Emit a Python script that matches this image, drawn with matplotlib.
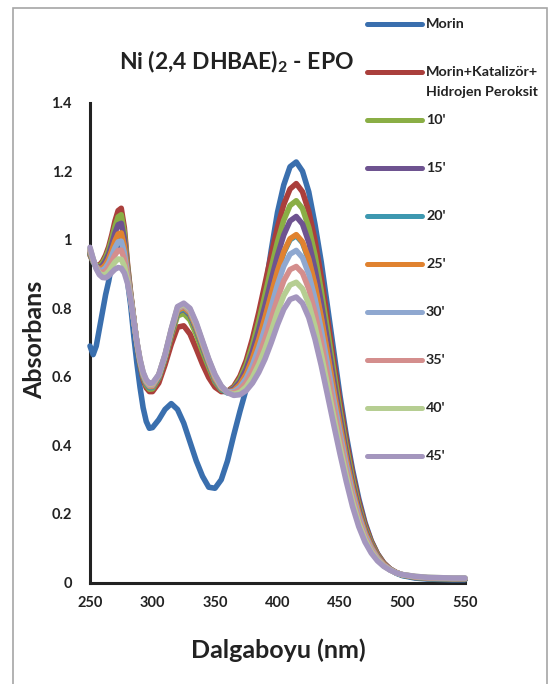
import matplotlib
matplotlib.use("Agg")
import matplotlib.pyplot as plt
from matplotlib.lines import Line2D
from matplotlib.patches import Rectangle

plt.rcParams['font.family'] = ['Lato', 'DejaVu Sans']
plt.rcParams['font.weight'] = 'bold'
plt.rcParams['mathtext.fontset'] = 'custom'
plt.rcParams['mathtext.rm'] = 'Lato:bold'
plt.rcParams['mathtext.bf'] = 'Lato:bold'

# wavelength grid (nm): 2.5 nm steps over the narrow first band, then 5 and 10 nm
wavelength = ([250 + 2.5 * i for i in range(21)]
              + list(range(305, 501, 5))
              + [510, 520, 530, 540, 550])

morin = [0.690, 0.665, 0.690, 0.740, 0.790, 0.840, 0.880, 0.930, 0.970, 0.990, 0.985,
         0.950, 0.880, 0.810, 0.720, 0.640, 0.570, 0.510, 0.470, 0.450, 0.452,
         0.475, 0.505, 0.522, 0.505, 0.465, 0.410, 0.355, 0.310, 0.278, 0.275,
         0.300, 0.355, 0.430, 0.500, 0.565, 0.640, 0.730, 0.850, 0.970, 1.080,
         1.160, 1.213, 1.227, 1.200, 1.140, 1.045, 0.935, 0.805, 0.675, 0.545,
         0.430, 0.330, 0.245, 0.175, 0.122, 0.084, 0.057, 0.039, 0.027, 0.020,
         0.013, 0.010, 0.009, 0.008, 0.008]
morin_kat = [0.955, 0.935, 0.925, 0.926, 0.937, 0.955, 0.980, 1.015, 1.055, 1.085, 1.092,
             1.035, 0.930, 0.845, 0.770, 0.695, 0.635, 0.592, 0.568, 0.557, 0.557,
             0.582, 0.635, 0.695, 0.745, 0.749, 0.725, 0.682, 0.637, 0.598, 0.570,
             0.557, 0.558, 0.572, 0.602, 0.648, 0.712, 0.788, 0.872, 0.957, 1.037,
             1.103, 1.148, 1.164, 1.140, 1.083, 0.998, 0.890, 0.770, 0.645, 0.525,
             0.415, 0.318, 0.236, 0.170, 0.120, 0.083, 0.057, 0.040, 0.029, 0.022,
             0.015, 0.012, 0.011, 0.010, 0.010]
t10 = [0.958, 0.936, 0.924, 0.923, 0.932, 0.948, 0.971, 1.003, 1.039, 1.067, 1.073,
       1.020, 0.924, 0.843, 0.769, 0.697, 0.640, 0.599, 0.575, 0.564, 0.565,
       0.596, 0.652, 0.720, 0.778, 0.785, 0.766, 0.724, 0.674, 0.628, 0.585,
       0.562, 0.557, 0.568, 0.594, 0.635, 0.692, 0.762, 0.839, 0.918, 0.994,
       1.057, 1.100, 1.114, 1.091, 1.036, 0.955, 0.851, 0.737, 0.617, 0.502,
       0.397, 0.304, 0.225, 0.162, 0.115, 0.080, 0.055, 0.039, 0.029, 0.022,
       0.015, 0.012, 0.011, 0.010, 0.010]
t15 = [0.961, 0.938, 0.923, 0.919, 0.925, 0.939, 0.959, 0.988, 1.020, 1.044, 1.048,
       1.002, 0.916, 0.840, 0.769, 0.698, 0.644, 0.603, 0.580, 0.569, 0.570,
       0.600, 0.657, 0.728, 0.789, 0.798, 0.780, 0.738, 0.687, 0.638, 0.590,
       0.565, 0.557, 0.565, 0.586, 0.623, 0.674, 0.737, 0.808, 0.883, 0.954,
       1.014, 1.055, 1.068, 1.046, 0.993, 0.915, 0.816, 0.705, 0.591, 0.482,
       0.380, 0.290, 0.215, 0.155, 0.110, 0.077, 0.054, 0.039, 0.029, 0.022,
       0.015, 0.013, 0.011, 0.011, 0.010]
t20 = [0.961, 0.936, 0.918, 0.912, 0.915, 0.925, 0.942, 0.967, 0.994, 1.014, 1.017,
       0.978, 0.904, 0.834, 0.765, 0.697, 0.642, 0.602, 0.580, 0.569, 0.569,
       0.600, 0.657, 0.729, 0.791, 0.800, 0.784, 0.741, 0.690, 0.639, 0.591,
       0.564, 0.553, 0.557, 0.575, 0.605, 0.651, 0.706, 0.770, 0.838, 0.906,
       0.962, 1.000, 1.012, 0.991, 0.941, 0.865, 0.771, 0.667, 0.559, 0.455,
       0.358, 0.272, 0.200, 0.144, 0.102, 0.072, 0.051, 0.037, 0.028, 0.021,
       0.015, 0.012, 0.011, 0.010, 0.010]
t25 = [0.964, 0.939, 0.921, 0.915, 0.918, 0.928, 0.945, 0.970, 0.997, 1.017, 1.020,
       0.981, 0.907, 0.837, 0.768, 0.700, 0.645, 0.605, 0.583, 0.572, 0.572,
       0.603, 0.660, 0.732, 0.794, 0.803, 0.787, 0.744, 0.693, 0.642, 0.594,
       0.567, 0.556, 0.560, 0.578, 0.608, 0.654, 0.709, 0.773, 0.841, 0.909,
       0.965, 1.003, 1.015, 0.994, 0.944, 0.868, 0.774, 0.670, 0.562, 0.458,
       0.361, 0.275, 0.203, 0.147, 0.105, 0.074, 0.053, 0.038, 0.029, 0.022,
       0.016, 0.013, 0.012, 0.011, 0.011]
t30 = [0.968, 0.941, 0.920, 0.911, 0.911, 0.919, 0.933, 0.955, 0.977, 0.994, 0.996,
       0.962, 0.899, 0.835, 0.767, 0.701, 0.647, 0.607, 0.585, 0.574, 0.575,
       0.604, 0.662, 0.735, 0.798, 0.808, 0.792, 0.750, 0.698, 0.646, 0.599,
       0.569, 0.556, 0.557, 0.570, 0.596, 0.635, 0.685, 0.742, 0.805, 0.869,
       0.923, 0.958, 0.969, 0.948, 0.900, 0.828, 0.738, 0.638, 0.536, 0.437,
       0.344, 0.261, 0.193, 0.139, 0.100, 0.071, 0.051, 0.038, 0.028, 0.023,
       0.017, 0.014, 0.013, 0.012, 0.012]
t35 = [0.971, 0.942, 0.918, 0.906, 0.904, 0.909, 0.921, 0.938, 0.956, 0.969, 0.970,
       0.943, 0.890, 0.832, 0.767, 0.701, 0.649, 0.610, 0.587, 0.576, 0.577,
       0.605, 0.663, 0.736, 0.800, 0.810, 0.794, 0.752, 0.700, 0.648, 0.602,
       0.571, 0.555, 0.553, 0.563, 0.584, 0.617, 0.660, 0.711, 0.769, 0.829,
       0.880, 0.913, 0.922, 0.903, 0.857, 0.788, 0.702, 0.607, 0.510, 0.416,
       0.327, 0.248, 0.183, 0.132, 0.095, 0.068, 0.050, 0.037, 0.028, 0.023,
       0.017, 0.014, 0.013, 0.012, 0.012]
t40 = [0.975, 0.944, 0.917, 0.902, 0.897, 0.899, 0.908, 0.922, 0.935, 0.944, 0.943,
       0.923, 0.882, 0.829, 0.766, 0.702, 0.650, 0.612, 0.590, 0.579, 0.580,
       0.606, 0.664, 0.738, 0.803, 0.812, 0.797, 0.755, 0.702, 0.650, 0.604,
       0.572, 0.555, 0.549, 0.555, 0.571, 0.599, 0.636, 0.681, 0.733, 0.789,
       0.837, 0.868, 0.876, 0.857, 0.813, 0.747, 0.666, 0.576, 0.484, 0.395,
       0.311, 0.235, 0.173, 0.125, 0.090, 0.066, 0.048, 0.037, 0.028, 0.023,
       0.018, 0.015, 0.014, 0.013, 0.013]
t45 = [0.978, 0.945, 0.915, 0.898, 0.890, 0.889, 0.895, 0.905, 0.914, 0.919, 0.917,
       0.903, 0.873, 0.826, 0.765, 0.703, 0.652, 0.614, 0.592, 0.581, 0.582,
       0.607, 0.665, 0.740, 0.805, 0.815, 0.800, 0.758, 0.705, 0.652, 0.607,
       0.574, 0.554, 0.546, 0.548, 0.560, 0.582, 0.613, 0.652, 0.700, 0.752,
       0.797, 0.826, 0.833, 0.815, 0.773, 0.710, 0.633, 0.547, 0.460, 0.375,
       0.295, 0.222, 0.163, 0.118, 0.086, 0.063, 0.047, 0.036, 0.028, 0.023,
       0.018, 0.015, 0.014, 0.013, 0.013]

series = [morin, morin_kat, t10, t15, t20, t25, t30, t35, t40, t45]
labels = ["Morin", "Morin+Katalizör+\nHidrojen Peroksit", "10'", "15'", "20'",
          "25'", "30'", "35'", "40'", "45'"]
colors = ['#3A6FAE', '#AA3F3C', '#8AAE45', '#6E5390', '#3D98B0',
          '#E0822F', '#8FA8D0', '#D48E8D', '#B6CE92', '#A496BE']

x_ticks = [250, 300, 350, 400, 450, 500, 550]
y_ticks = [0, 0.2, 0.4, 0.6, 0.8, 1.0, 1.2, 1.4]
y_tick_labels = ['0', '0.2', '0.4', '0.6', '0.8', '1', '1.2', '1.4']

W, H = 550, 684
TXT = '#222222'


def fx(px):
    return px / W


def fy(py):
    return 1 - py / H


fig = plt.figure(figsize=(W / 100, H / 100), dpi=100)
ax = fig.add_axes([fx(90), fy(582.5), fx(465) - fx(90), fy(102.7) - fy(582.5)])

for values, color in zip(series, colors):
    ax.plot(wavelength, values, color=color, lw=4.0, clip_on=False,
            solid_capstyle='round', solid_joinstyle='round')

ax.set_xlim(250, 550)
ax.set_ylim(0, 1.4)
ax.set_xticks(x_ticks)
ax.set_xticklabels([str(t) for t in x_ticks])
ax.set_yticks(y_ticks)
ax.set_yticklabels(y_tick_labels)
ax.tick_params(axis='both', length=0, labelsize=10.5, colors=TXT)
ax.tick_params(axis='y', pad=13)
ax.tick_params(axis='x', pad=10)
for side in ['top', 'right']:
    ax.spines[side].set_visible(False)
for side in ['left', 'bottom']:
    ax.spines[side].set_linewidth(2.2)
    ax.spines[side].set_color(TXT)
    ax.spines[side].set_zorder(0.5)

fig.text(fx(236), fy(62), r'Ni (2,4 DHBAE)$_\mathbf{2}$ - EPO', ha='center', va='center',
         fontsize=16.5, color=TXT)
fig.text(fx(278), fy(650), 'Dalgaboyu (nm)', ha='center', va='center', fontsize=18, color=TXT)
fig.text(fx(35), fy(340), 'Absorbans', ha='center', va='center', rotation=90,
         fontsize=18, color=TXT)

# legend drawn by hand so the two-line entry keeps its handle on the first line
for i, (label, color) in enumerate(zip(labels, colors)):
    y = 24 + 48 * i
    fig.add_artist(Line2D([fx(367), fx(422)], [fy(y), fy(y)], transform=fig.transFigure,
                          color=color, lw=3.6, solid_capstyle='round'))
    for j, line in enumerate(label.split('\n')):
        fig.text(fx(426), fy(y + 20 * j), line, ha='left', va='center', fontsize=10.3, color=TXT)

fig.add_artist(Rectangle((fx(13), fy(700)), fx(547) - fx(13), fy(8) - fy(700),
                         transform=fig.transFigure, fill=False, edgecolor='#A6A6A6', lw=1.2))

fig.savefig('out.png', dpi=100)
